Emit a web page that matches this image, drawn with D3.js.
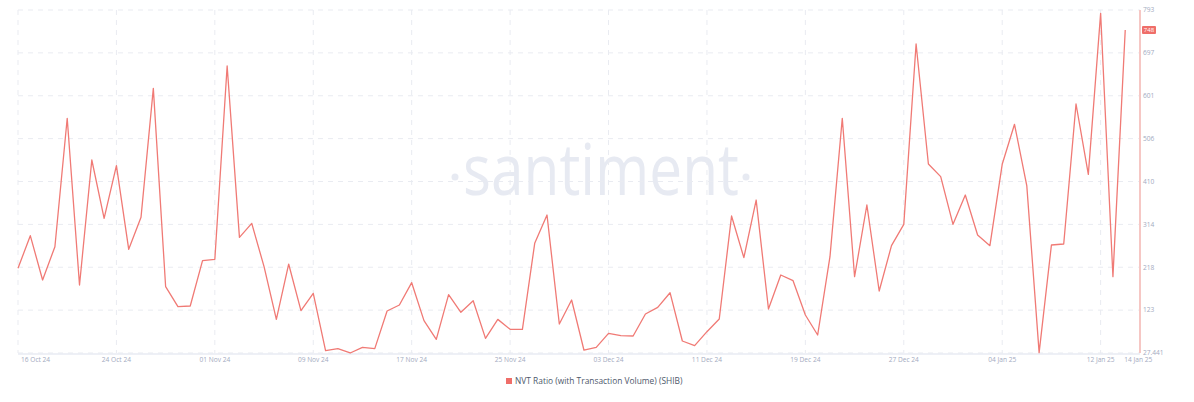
<!DOCTYPE html>
<html><head><meta charset="utf-8">
<script src="https://cdn.jsdelivr.net/npm/d3@7"></script>
<style>
html,body{margin:0;padding:0;background:#fff;}
svg{display:block;font-family:"Open Sans",Lato,sans-serif;}
</style></head>
<body>
<svg id="chart" width="1194" height="402"></svg>
<script>
const startDate = "2024-10-16";
const values = [216.5,289.3,190.4,264.7,551.3,179.2,458.2,328,445.5,258.8,330.3,618.1,175.4,130.8,132.3,233.5,236.5,668,285.6,316.8,
220.1,102.5,226,121.9,160.6,32.6,37.1,27.5,40,37.1,121.2,134.6,184.4,99.6,57.9,157.6,118.2,144.2,60.1,102.5,
80.3,80.3,272.2,335.4,92.2,145.7,34.1,40,71.3,66.1,65.4,114.5,129.4,162,54.2,43.8,75,103.3,333.2,240.2,
368.9,125.6,201.5,188.8,112.2,67.6,242.4,551.3,197.7,357.8,165.8,267,314.6,717.1,449.3,421,314.6,380.1,290.8,267,
448.6,537.9,400.2,28.2,268.5,270.7,583.2,426.2,785.6,197.7,748.4];
const yTickValues = [27.441,123.136,218.83,314.524,410.218,505.913,601.607,697.301,792.996];
const yTickLabels = ["27.441","123","218","314","410","506","601","697","793"];
const xTickDates = ["2024-10-16","2024-10-24","2024-11-01","2024-11-09","2024-11-17","2024-11-25","2024-12-03","2024-12-11","2024-12-19","2024-12-27","2025-01-04","2025-01-12"];
const lastLabelDate = "2025-01-14";
const seriesName = "NVT Ratio (with Transaction Volume) (SHIB)";

(function(){
const parse = d3.utcParse("%Y-%m-%d");
const fmt = d3.utcFormat("%d %b %y");
const t0 = parse(startDate);
const data = values.map((v,i)=>({date:d3.utcDay.offset(t0,i), value:v}));

const svg = d3.select("#chart");
const pLeft = 18, pRight = 1140, pTop = 10, pBottom = 353;
const endDate = new Date(t0.getTime() + 91.2*86400000);
const x = d3.scaleUtc().domain([t0, endDate]).range([pLeft, pRight]);
const y = d3.scaleLinear().domain([27.441, 792.996]).range([pBottom, pTop]);

const lineColor = "#f07a75";
const tickColor = "#a3aac0";
const tickSize = 6.6;

// watermark
svg.append("text").attr("x",463).attr("y",195).attr("textLength",276).attr("lengthAdjust","spacingAndGlyphs")
  .attr("font-family","'Open Sans',sans-serif").attr("font-size",71).attr("fill","#e7eaf2").text("santiment");
svg.append("circle").attr("cx",455).attr("cy",177).attr("r",3.5).attr("fill","#e7eaf2");
svg.append("circle").attr("cx",746).attr("cy",177).attr("r",3.5).attr("fill","#e7eaf2");

// horizontal grid
svg.append("g").selectAll("line").data(yTickValues).join("line")
  .attr("x1",pLeft).attr("x2",pRight).attr("y1",d=>y(d)).attr("y2",d=>y(d))
  .attr("stroke","#e9ebf1").attr("stroke-dasharray","5,5").attr("stroke-width",1);
// vertical grid
svg.append("g").selectAll("line").data(xTickDates).join("line")
  .attr("x1",d=>x(parse(d))).attr("x2",d=>x(parse(d))).attr("y1",pTop).attr("y2",pBottom)
  .attr("stroke","#e9ebf1").attr("stroke-dasharray","5,5").attr("stroke-width",1);

// bottom axis line
svg.append("line").attr("x1",pLeft).attr("x2",pRight).attr("y1",pBottom+1).attr("y2",pBottom+1)
  .attr("stroke","#e9ebf3").attr("stroke-width",1.5);

// right axis line
svg.append("line").attr("x1",pRight).attr("x2",pRight).attr("y1",pTop).attr("y2",pBottom)
  .attr("stroke","#f6c7c4").attr("stroke-width",2);

// y labels
svg.append("g").selectAll("text").data(yTickValues).join("text")
  .attr("x",pRight+3).attr("y",d=>y(d)).attr("dy","0.35em")
  .attr("font-size",tickSize).attr("fill",tickColor).text((d,i)=>yTickLabels[i]);

// x labels
const xl = svg.append("g");
xl.selectAll("text").data(xTickDates).join("text")
  .attr("x",(d,i)=> i===0 ? x(parse(d))+3 : x(parse(d)))
  .attr("y",362).attr("text-anchor",(d,i)=> i===0 ? "start":"middle")
  .attr("font-size",tickSize).attr("fill",tickColor).text(d=>fmt(parse(d)));
xl.append("text").attr("x",x(parse(lastLabelDate))-1).attr("y",362).attr("text-anchor","start")
  .attr("font-size",tickSize).attr("fill",tickColor).text(fmt(parse(lastLabelDate)));

// line
svg.append("path").datum(data)
  .attr("d",d3.line().x(d=>x(d.date)).y(d=>y(d.value)))
  .attr("fill","none").attr("stroke",lineColor).attr("stroke-width",1.3).attr("stroke-linejoin","round");

// last value badge
const last = data[data.length-1];
const by = y(last.value);
svg.append("rect").attr("x",pRight+2).attr("y",by-4).attr("width",14).attr("height",8).attr("fill","#ef6e69").attr("rx",1);
svg.append("text").attr("x",pRight+9).attr("y",by).attr("dy","0.35em").attr("text-anchor","middle")
  .attr("font-size",6).attr("fill","#fff").text(Math.round(last.value));

// legend
svg.append("rect").attr("x",506).attr("y",378).attr("width",6).attr("height",6).attr("fill","#ef6e69");
svg.append("text").attr("x",515).attr("y",384).attr("font-size",8.4).attr("fill","#4e586b").text(seriesName);
})();
</script>
</body></html>
